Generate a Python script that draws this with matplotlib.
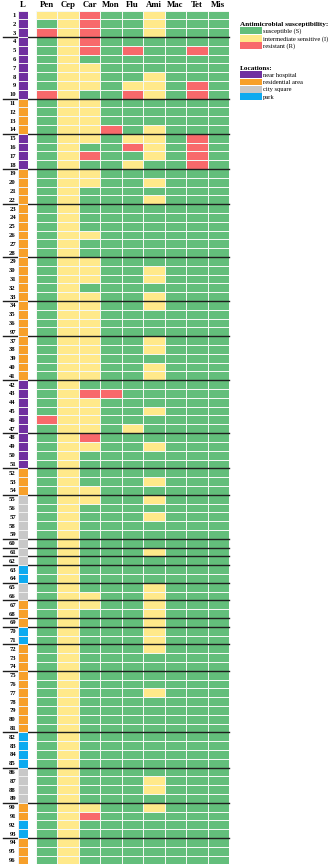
import numpy as np
import matplotlib
matplotlib.use('Agg')
import matplotlib.pyplot as plt
from matplotlib.colors import ListedColormap
from matplotlib.patches import Patch
from matplotlib.transforms import blended_transform_factory

# antibiotics tested (columns)
antibiotics = ["Pen", "Cep", "Car", "Mon", "Flu", "Ami", "Mac", "Tet", "Mis"]

# sample ids as printed (one sample is labelled 97 between 36 and 37)
sample_labels = [str(i) for i in range(1, 37)] + ["97"] + [str(i) for i in range(37, 97)]

# S / I / R per sample, columns in antibiotic order
susceptibility = [
    "IIRSSISSS", "SIRSSISSS", "RIRSSISSS", "SIRSSSSSS", "SIRSRSSRS",
    "SISSSSSSS", "SIISSSSSS", "SIISSISSS", "SIISIISRS", "RISSRISRS",
    "SIISSSSSS", "SIISSSSSS", "SIISSSSSS", "SIIRSISSS", "SIISIISRS",
    "SISSRISRS", "SIRSSISRS", "SISSISSRS", "SIISSSSSS", "SIISSISSS",
    "SISSSSSSS", "SISSSISSS", "SISSSSSSS", "SISSSSSSS", "SISSSSSSS",
    "SIISSSSSS", "SISSSSSSS", "SISSSSSSS", "SIISSSSSS", "SIISSISSS",
    "SIISSISSS", "SISSSSSSS", "SIISSISSS", "SIISSISSS", "SIISSSSSS",
    "SIISSSSSS", "SIISSSSSS",  # 36, 97
    "SIISSISSS", "SIISSISSS", "SIISSSSSS", "SIISSISSS", "SIISSISSS",
    "SISSSSSSS", "SIRRSSSSS", "SIISSSSSS", "SIISSISSS", "RIISSSSSS",
    "SIISISSSS", "SIRSSSSSS", "SIISSISSS", "SISSSSSSS", "SISSSSSSS",
    "SISSSSSSS", "SISSSISSS", "SIISSSSSS", "SIISSISSS", "SISSSSSSS",
    "SISSSISSS", "SISSSSSSS", "SISSSSSSS", "SISSSSSSS", "SISSSISSS",
    "SISSSSSSS", "SISSSSSSS", "SISSSSSSS", "SISSSISSS", "SIISSISSS",
    "SIISSISSS", "SISSSISSS", "SISSSISSS", "SISSSISSS", "SISSSISSS",
    "SISSSISSS", "SISSSSSSS", "SISSSSSSS", "SISSSSSSS", "SISSSSSSS",
    "SISSSISSS", "SISSSSSSS", "SISSSSSSS", "SISSSSSSS", "SISSSSSSS",
    "SISSSSSSS", "SISSSSSSS", "SISSSSSSS", "SISSSSSSS", "SISSSSSSS",
    "SISSSISSS", "SISSSISSS", "SISSSSSSS", "SIISSISSS", "SIRSSSSSS",
    "SISSSSSSS", "SISSSSSSS", "SISSSSSSS", "SISSSSSSS", "SISSSSSSS",
]

# H near hospital, R residential area, C city square, P park
sample_location = ("HHHHHHHHHH" "RRRR" "HHHH" "RRRRRRRRRRRRRRRRRRRRRRRR"
                   "HHHHHHHHHH" "RRR" "CCCCCCCC" "PP" "CC" "RRR" "PP"
                   "RRRRRRRRRR" "PPPP" "CCCC" "RR" "PP" "RRR")

# sampling groups end after these samples
group_ends = ["3", "10", "14", "18", "22", "28", "33", "97", "41", "47", "51",
              "54", "59", "60", "61", "62", "64", "66", "68", "69", "71", "74",
              "81", "85", "89", "93"]

sus_names = ["susceptible (S)", "intermediate sensitive (I)", "resistant (R)"]
sus_colors = ["#63be7b", "#ffe98a", "#f8696b"]
loc_names = ["near hospital", "residential area", "city square", "park"]
loc_colors = ["#7030a0", "#f7a02a", "#c8c8c8", "#0eaaf0"]

serif = "Liberation Serif"
W, H = 330, 868
top, bottom = 10.6, 864.4

fig = plt.figure(figsize=(W / 100, H / 100), dpi=100)


def px_axes(x0, x1):
    return fig.add_axes([x0 / W, 1 - bottom / H, (x1 - x0) / W, (bottom - top) / H])


n = len(sample_labels)

# susceptibility grid
ax = px_axes(36, 229)
codes = np.array([["SIR".index(c) for c in row] for row in susceptibility])
ax.pcolormesh(codes, cmap=ListedColormap(sus_colors), vmin=-0.5, vmax=2.5,
              edgecolors="#f4f8f4", linewidth=0.6)
ax.set_xlim(0, len(antibiotics))
ax.set_ylim(n, 0)
ax.xaxis.tick_top()
ax.set_xticks(np.arange(len(antibiotics)) + 0.5, antibiotics,
              fontsize=6.3, fontweight="bold", family=serif)
ax.set_yticks([])
ax.tick_params(length=0, pad=1.5)
for s in ax.spines.values():
    s.set_visible(False)

# location strip
axl = px_axes(18, 28)
loc_codes = np.array([["HRCP".index(c)] for c in sample_location])
axl.pcolormesh(loc_codes, cmap=ListedColormap(loc_colors), vmin=-0.5, vmax=3.5,
               edgecolors="#eeeeee", linewidth=0.4)
axl.set_xlim(0, 1)
axl.set_ylim(n, 0)
axl.xaxis.tick_top()
axl.set_xticks([0.5], ["L"], fontsize=6.3, fontweight="bold", family=serif)
axl.set_yticks(np.arange(n) + 0.5, sample_labels, fontsize=4.8,
               fontweight="bold", family=serif)
axl.tick_params(length=0, pad=1.5)
for s in axl.spines.values():
    s.set_visible(False)

# group separators across both blocks
trans = blended_transform_factory(fig.transFigure, ax.transData)
for lab in group_ends:
    y = sample_labels.index(lab) + 1
    ax.plot([3 / W, 229 / W], [y, y], transform=trans, color="#1e1e1e",
            lw=1.0, clip_on=False)

leg_kw = dict(loc="upper left", frameon=False, alignment="left",
              prop={"family": serif, "size": 4.7},
              title_fontproperties={"family": serif, "weight": "bold", "size": 5.2},
              handlelength=3.3, handleheight=1.25, handletextpad=0.2,
              labelspacing=0.05, borderpad=0, borderaxespad=0)

fig.legend(handles=[Patch(facecolor=c, edgecolor="none", label=l)
                    for c, l in zip(sus_colors, sus_names)],
           title="Antimicrobial susceptibility:",
           bbox_to_anchor=(240 / W, 1 - 22 / H), **leg_kw)
fig.legend(handles=[Patch(facecolor=c, edgecolor="none", label=l)
                    for c, l in zip(loc_colors, loc_names)],
           title="Locations:",
           bbox_to_anchor=(240 / W, 1 - 66 / H), **leg_kw)

fig.savefig("out.png", dpi=100)
